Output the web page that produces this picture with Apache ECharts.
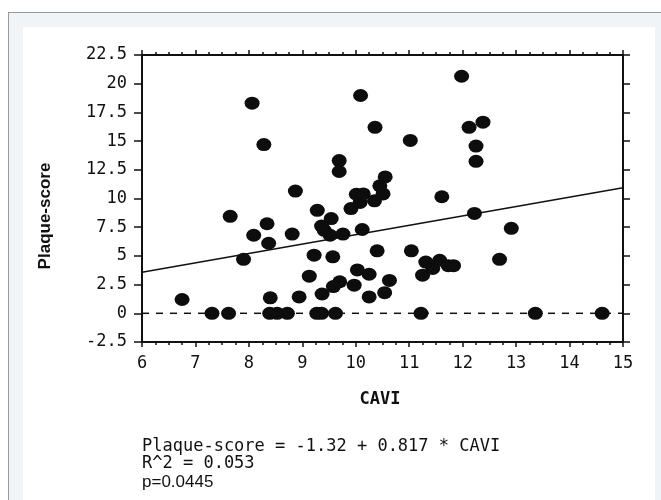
<!DOCTYPE html>
<html>
<head>
<meta charset="utf-8">
<script src="https://cdn.jsdelivr.net/npm/echarts@6/dist/echarts.min.js"></script>
<style>
  html, body { margin: 0; padding: 0; width: 661px; height: 500px; overflow: hidden; background: #ffffff; }
  #outer { position: absolute; left: 8px; top: 12px; width: 653px; height: 488px; background: #eef4f8;
           border-top: 1.5px solid #9a9a9a; border-left: 1.5px solid #9a9a9a; box-sizing: border-box; }
  #panel { position: absolute; left: 23px; top: 27px; width: 632px; height: 473px; background: #ffffff; }
  #chart { position: absolute; left: 0; top: 0; width: 661px; height: 500px; }
</style>
</head>
<body>
<div id="outer"></div>
<div id="panel"></div>
<div id="chart"></div>
<script>
// CAVI (x) values of each subject
const cavi = [6.75, 7.31, 7.62, 7.65, 7.90, 8.06, 8.09, 8.28, 8.34, 8.37, 8.40, 8.39, 8.53, 8.72, 8.81, 8.87, 8.94,
  9.13, 9.22, 9.28, 9.27, 9.36, 9.37, 9.36, 9.41, 9.54, 9.52, 9.57, 9.58, 9.62, 9.69, 9.69, 9.70, 9.76, 9.91, 9.97,
  10.03, 10.01, 10.08, 10.14, 10.09, 10.12, 10.25, 10.25, 10.36, 10.35, 10.40, 10.45, 10.51, 10.55, 10.54, 10.63,
  11.02, 11.04, 11.22, 11.25, 11.31, 11.44, 11.57, 11.61, 11.73, 11.83, 11.98, 12.12, 12.38, 12.25, 12.25, 12.22,
  12.69, 12.91, 13.36, 14.61];
// Plaque-score (y) values of each subject
const plaque = [1.2, 0, 0, 8.45, 4.7, 18.3, 6.8, 14.7, 7.8, 6.1, 1.35, 0, 0, 0, 6.9, 10.65, 1.43,
  3.23, 5.06, 8.97, 0, 0, 1.68, 7.6, 7.23, 8.25, 6.8, 4.92, 2.33, 0, 13.3, 12.35, 2.75, 6.9, 9.12, 2.45,
  3.78, 10.37, 9.65, 10.4, 18.97, 7.3, 3.4, 1.43, 16.2, 9.8, 5.44, 11.1, 10.4, 11.88, 1.8, 2.86,
  15.06, 5.44, 0, 3.32, 4.46, 3.9, 4.62, 10.15, 4.15, 4.15, 20.65, 16.2, 16.65, 14.57, 13.24, 8.7,
  4.7, 7.4, 0, 0];
// regression line end points
const fitLineX = [6, 15];
const fitLineY = [3.58, 10.94];
// zero reference line
const zeroLineX = [6, 15];
const zeroLineY = [0, 0];
// axis ranges / ticks
const xRange = [6, 15], xStep = 1;
const yRange = [-2.5, 22.5], yStep = 2.5;
const statLines = ['Plaque-score = -1.32 + 0.817 * CAVI', 'R^2 = 0.053', 'p=0.0445'];
const xTitle = 'CAVI';
const yTitle = 'Plaque-score';

const chart = echarts.init(document.getElementById('chart'), null, { renderer: 'canvas' });
const monoFont = '"DejaVu Sans Mono", monospace';
const axisLine = { show: true, onZero: false, lineStyle: { color: '#111', width: 2 } };

const xBase = {
  type: 'value', min: xRange[0], max: xRange[1], interval: xStep,
  axisLine: axisLine, splitLine: { show: false },
  axisTick: { show: true, length: 5, lineStyle: { color: '#111', width: 1.5 } },
  minorTick: { show: true, splitNumber: 4, length: 3, lineStyle: { color: '#111', width: 1.5 } }
};
const yBase = {
  type: 'value', min: yRange[0], max: yRange[1], interval: yStep,
  axisLine: axisLine, splitLine: { show: false },
  axisTick: { show: true, length: 8, lineStyle: { color: '#111', width: 1.5 } }
};

const option = {
  animation: false,
  backgroundColor: 'transparent',
  grid: { left: 142, top: 55, width: 481, height: 287, containLabel: false },
  xAxis: [
    Object.assign({}, xBase, { position: 'bottom',
      axisLabel: { show: true, margin: 13, color: '#111', fontFamily: monoFont, fontSize: 17 } }),
    Object.assign({}, xBase, { position: 'top', axisLabel: { show: false } })
  ],
  yAxis: [
    Object.assign({}, yBase, { position: 'left',
      axisLabel: { show: true, margin: 15, color: '#111', fontFamily: monoFont, fontSize: 17 } }),
    Object.assign({}, yBase, { position: 'right', axisLabel: { show: false },
      axisTick: { show: true, length: 7, lineStyle: { color: '#111', width: 1.5 } } })
  ],
  series: [
    {
      type: 'line', data: zeroLineX.map((x, i) => [x, zeroLineY[i]]),
      symbol: 'none', silent: true, z: 1,
      lineStyle: { color: '#111', width: 1.5, type: [7, 7] }
    },
    {
      type: 'line', data: fitLineX.map((x, i) => [x, fitLineY[i]]),
      symbol: 'none', silent: true, z: 2,
      lineStyle: { color: '#111', width: 1.5 }
    },
    {
      type: 'scatter', data: cavi.map((x, i) => [x, plaque[i]]),
      symbol: 'circle', symbolSize: [15, 13], z: 3,
      itemStyle: { color: '#0d0d0d', opacity: 1 }
    }
  ],
  graphic: [
    { type: 'text', x: 45, y: 216, rotation: Math.PI / 2,
      style: { text: yTitle, font: 'bold 17px "Liberation Sans", Arial, sans-serif', fill: '#111',
               align: 'center', verticalAlign: 'middle' } },
    { type: 'text', x: 380, y: 400,
      style: { text: xTitle, font: 'bold 17px ' + monoFont, fill: '#111',
               align: 'center', verticalAlign: 'middle' } },
    { type: 'text', x: 142, y: 447,
      style: { text: statLines[0], font: '17px ' + monoFont, fill: '#111', align: 'left', verticalAlign: 'middle' } },
    { type: 'text', x: 142, y: 464,
      style: { text: statLines[1], font: '17px ' + monoFont, fill: '#111', align: 'left', verticalAlign: 'middle' } },
    { type: 'text', x: 142, y: 482,
      style: { text: statLines[2], font: '17px "Liberation Sans", Arial, sans-serif', fill: '#111', align: 'left', verticalAlign: 'middle' } }
  ]
};
chart.setOption(option);
</script>
</body>
</html>
